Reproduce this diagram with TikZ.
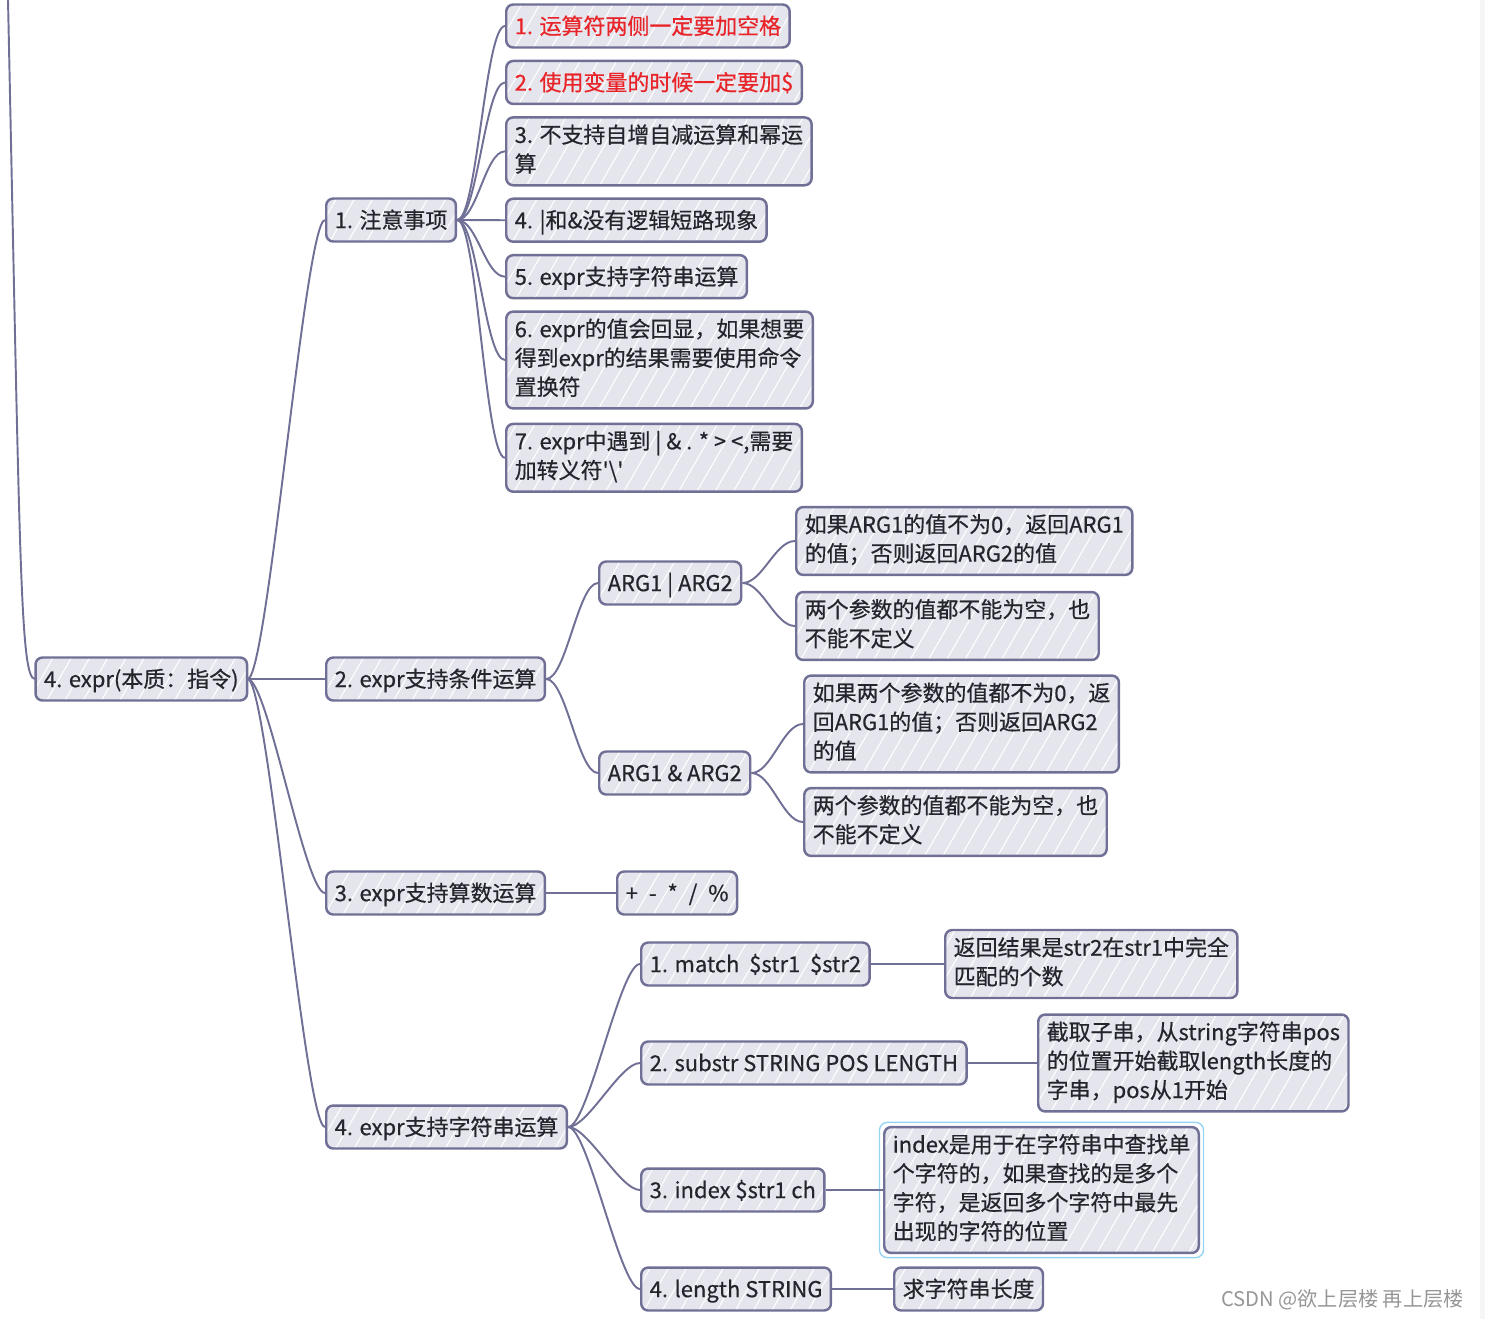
\documentclass[tikz,border=0pt]{standalone}
\usepackage{fontspec}
\setmainfont{Noto Sans CJK SC}
\newfontfamily\mapfont{Noto Sans CJK SC}[FakeBold=0.5]
\usepackage{tikz}
\usetikzlibrary{positioning,fit,patterns.meta}
\definecolor{mapline}{RGB}{112,112,150}
\definecolor{mapfill}{RGB}{229,229,237}
\definecolor{maptext}{RGB}{36,36,44}
\definecolor{mapred}{RGB}{232,36,40}
\definecolor{selblue}{RGB}{150,212,245}
\definecolor{markgray}{RGB}{150,150,150}
\newcommand\mapstrut{\rule[-3.6pt]{0pt}{16.5pt}}

\begin{document}
\begin{tikzpicture}[x=0.02cm,y=-0.02cm,
  topic/.style={rectangle,draw=mapline,line width=1.4pt,rounded corners=0.14cm,
    preaction={fill=mapfill},pattern={Lines[angle=60,distance=9pt,line width=0.6pt]},pattern color=white,
    anchor=west,align=left,inner xsep=0.17cm,inner ysep=0.14cm,text=maptext,
    font=\mapfont\fontsize{12.5}{16.5}\selectfont,execute at begin node=\mapstrut,execute at end node=\mapstrut},
  warn/.style={topic,text=mapred},
  wire/.style={draw=mapline,line width=1.1pt},
  branch/.style={wire,to path={.. controls +(20,0) and +(-20,0) .. (\tikztotarget)}}]
\useasboundingbox (0,0) rectangle (1485,1319);
\fill[gray!7] (1480,0) rectangle (1485,1319);

% root and its four topics
\node[topic] (root) at (35,679) {4. expr(本质：指令)};
\node[topic] (n1) at (325,220) {1. 注意事项};
\node[topic] (n2) at (325,679) {2. expr支持条件运算};
\node[topic] (n3) at (325,893) {3. expr支持算数运算};
\node[topic] (n4) at (325,1127) {4. expr支持字符串运算};

% 1. notes
\node[warn] (a1) at (505,26) {1. 运算符两侧一定要加空格};
\node[warn,below=0.22cm of a1.south west,anchor=north west] (a2) {2. 使用变量的时候一定要加\$};
\node[topic,below=0.22cm of a2.south west,anchor=north west] (a3) {3. 不支持自增自减运算和幂运\\算};
\node[topic,below=0.22cm of a3.south west,anchor=north west] (a4) {4. |和\&没有逻辑短路现象};
\node[topic,below=0.22cm of a4.south west,anchor=north west] (a5) {5. expr支持字符串运算};
\node[topic,below=0.22cm of a5.south west,anchor=north west] (a6) {6. expr的值会回显，如果想要\\得到expr的结果需要使用命令\\置换符};
\node[topic,below=0.26cm of a6.south west,anchor=north west] (a7) {7. expr中遇到 | \& . * > <,需要\\加转义符'\textbackslash'};

% 2. conditions
\node[topic] (b1) at (598,583) {ARG1 | ARG2};
\node[topic] (b2) at (598,773) {ARG1 \& ARG2};
\node[topic] (c1) at (795,541) {如果ARG1的值不为0，返回ARG1\\的值；否则返回ARG2的值};
\node[topic] (c2) at (795,626) {两个参数的值都不能为空，也\\不能不定义};
\node[topic] (c3) at (803,724) {如果两个参数的值都不为0，返\\回ARG1的值；否则返回ARG2\\的值};
\node[topic] (c4) at (803,822) {两个参数的值都不能为空，也\\不能不定义};

% 3. arithmetic
\node[topic] (d1) at (616,893) {+\enspace-\enspace*\enspace/\enspace\%};

% 4. strings
\node[topic] (e1) at (640,964) {1. match\ \ \$str1\ \ \$str2};
\node[topic] (e2) at (640,1063) {2. substr STRING POS LENGTH};
\node[topic] (e3) at (640,1190) {3. index \$str1 ch};
\node[topic] (e4) at (640,1289) {4. length STRING};
\node[topic] (f1) at (944,964) {返回结果是str2在str1中完全\\匹配的个数};
\node[topic] (f2) at (1037,1063) {截取子串，从string字符串pos\\的位置开始截取length长度的\\字串，pos从1开始};
\node[topic] (f3) at (883,1190) {index是用于在字符串中查找单\\个字符的，如果查找的是多个\\字符，是返回多个字符中最先\\出现的字符的位置};
\node[topic] (f4) at (893,1289) {求字符串长度};
\node[draw=selblue,line width=0.8pt,rounded corners=0.16cm,inner sep=0.07cm,fit=(f3)] (f3sel) {};

\node[text=markgray,font=\fontsize{11.5}{14}\selectfont,anchor=east] (mark) at (1470,1300) {CSDN @欲上层楼 再上层楼};

% connectors
\coordinate (up) at (8,0);
\draw[wire] (up) .. controls +(12,560) and +(-15,0) .. (root.west);
\foreach \t in {n1,n2,n3,n4} \draw[branch] (root.east) to (\t.west);
\foreach \t in {a1,a2,a3,a4,a5,a6,a7} \draw[branch] (n1.east) to (\t.west);
\foreach \t in {b1,b2} \draw[branch] (n2.east) to (\t.west);
\foreach \t in {c1,c2} \draw[branch] (b1.east) to (\t.west);
\foreach \t in {c3,c4} \draw[branch] (b2.east) to (\t.west);
\draw[wire] (n3.east) -- (d1.west);
\foreach \t in {e1,e2,e3,e4} \draw[branch] (n4.east) to (\t.west);
\draw[wire] (e1.east) -- (f1.west);
\draw[wire] (e2.east) -- (f2.west);
\draw[wire] (e3.east) -- (f3.west);
\draw[wire] (e4.east) -- (f4.west);
\end{tikzpicture}
\end{document}
